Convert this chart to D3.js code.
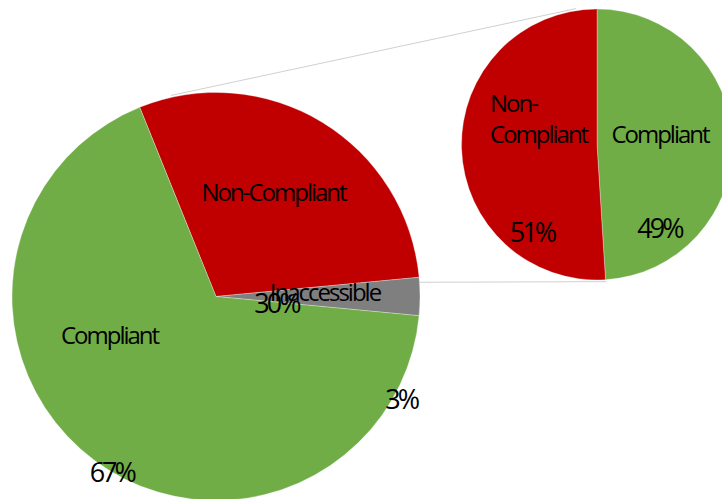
<!DOCTYPE html>
<html lang='en'>

<head>
    <meta charset='UTF-8' />
    <title>Compliance pie of pie</title>
    <script src="https://cdn.jsdelivr.net/npm/d3@7"></script>
    <style>
        html,
        body {
            margin: 0;
            background: white;
        }

        text {
            font-family: "Open Sans", "Noto Sans", sans-serif;
            font-size: 24px;
            letter-spacing: -2px;
            fill: #000;
        }

        text.pct {
            font-size: 27px;
            letter-spacing: -3px;
        }
    </style>
</head>

<body>
    <div id="container"></div>

    <script>
        // data //
        const mainCategories = ["Non-Compliant", "Inaccessible", "Compliant"];
        const mainValues = [29.6, 3.0, 67.4];
        const subCategories = ["Compliant", "Non-Compliant"];
        const subValues = [49, 51];

        const colors = {
            "Compliant": "#70ad47",
            "Non-Compliant": "#c00000",
            "Inaccessible": "#7f7f7f"
        };

        // label spots, as fractions of the radius, relative to each pie centre
        const mainNameSpots = [[0.282, -0.47], [0.534, 0.022], [-0.522, 0.234]];
        const mainPctSpots = [[0.296, 0.082], [0.908, 0.553], [-0.511, 0.908]];
        const subNameSpots = [[0.465, -0.009], [-0.79, -0.24]];
        const subPctSpots = [[0.461, 0.688], [-0.48, 0.717]];

        const width = 722, height = 499;
        const main = { cx: 216, cy: 296.5, r: 204 };
        const sub = { cx: 597, cy: 144.5, r: 135.5 };

        const svg = d3.select("#container")
            .append("svg")
            .attr("width", width)
            .attr("height", height);

        const deg = Math.PI / 180;
        const total = d3.sum(mainValues);
        // the small "Inaccessible" slice is centred at 3 o'clock
        const mainStart = 90 * deg - (mainValues[0] + mainValues[1] / 2) / total * 2 * Math.PI;

        const mainPie = d3.pie().sort(null).startAngle(mainStart).endAngle(mainStart + 2 * Math.PI);
        const subPie = d3.pie().sort(null);

        function onCircle(c, angle, rr) {
            return [c.cx + rr * Math.sin(angle), c.cy - rr * Math.cos(angle)];
        }

        // connector lines
        const connectors = [
            [onCircle(main, -12.6 * deg, main.r + 2), onCircle(sub, -8.8 * deg, sub.r + 2)],
            [onCircle(main, 86 * deg, main.r), onCircle(sub, 176 * deg, sub.r + 2)]
        ];
        svg.append("g")
            .selectAll("line")
            .data(connectors)
            .join("line")
            .attr("x1", d => d[0][0])
            .attr("y1", d => d[0][1])
            .attr("x2", d => d[1][0])
            .attr("y2", d => d[1][1])
            .attr("stroke", "#d0d0d0")
            .attr("stroke-width", 1);

        function drawPie(c, pie, categories, values, nameSpots, pctSpots, splitName) {
            const g = svg.append("g").attr("transform", `translate(${c.cx},${c.cy})`);
            const arc = d3.arc().innerRadius(0).outerRadius(c.r);
            const arcs = pie(values);
            const sum = d3.sum(values);

            g.selectAll("path")
                .data(arcs)
                .join("path")
                .attr("d", arc)
                .attr("fill", (d, i) => colors[categories[i]])
                .attr("stroke", "#fff")
                .attr("stroke-width", 0.3);

            g.selectAll("text.name")
                .data(categories)
                .join("text")
                .attr("class", "name")
                .attr("x", (d, i) => nameSpots[i][0] * c.r)
                .attr("y", (d, i) => nameSpots[i][1] * c.r)
                .attr("text-anchor", (d, i) => splitName && d === splitName ? "start" : "middle")
                .each(function (d) {
                    const t = d3.select(this);
                    if (splitName && d === splitName) {
                        const x = t.attr("x");
                        t.append("tspan").attr("x", x).text("Non-");
                        t.append("tspan").attr("x", x).attr("dy", 31.3).text("Compliant");
                    } else {
                        t.text(d);
                    }
                });

            g.selectAll("text.pct")
                .data(values)
                .join("text")
                .attr("class", "pct")
                .attr("x", (d, i) => pctSpots[i][0] * c.r)
                .attr("y", (d, i) => pctSpots[i][1] * c.r)
                .attr("text-anchor", "middle")
                .text(d => Math.round(d / sum * 100) + "%");
        }

        drawPie(main, mainPie, mainCategories, mainValues, mainNameSpots, mainPctSpots, null);
        drawPie(sub, subPie, subCategories, subValues, subNameSpots, subPctSpots, "Non-Compliant");
    </script>
</body>

</html>
